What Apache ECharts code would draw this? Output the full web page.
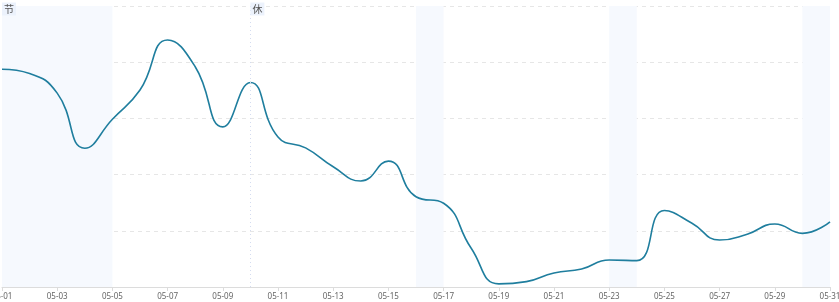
<!DOCTYPE html>
<html>
<head>
<meta charset="utf-8">
<script src="https://cdn.jsdelivr.net/npm/echarts@6/dist/echarts.min.js"></script>
<style>
  html, body { margin: 0; padding: 0; background: #fff; }
  #chart { width: 839px; height: 302px; }
</style>
</head>
<body>
<div id="chart"></div>
<script>
// days of May shown on the x axis
const days = [
  "05-01", "05-02", "05-03", "05-04", "05-05", "05-06", "05-07", "05-08",
  "05-09", "05-10", "05-11", "05-12", "05-13", "05-14", "05-15", "05-16",
  "05-17", "05-18", "05-19", "05-20", "05-21", "05-22", "05-23", "05-24",
  "05-25", "05-26", "05-27", "05-28", "05-29", "05-30", "05-31"
];
// series values (y axis has no labels, read on a 0-100 scale)
const values = [
  77.5, 76.0, 69.0, 49.4, 59.7, 70.1, 87.9, 78.4,
  57.0, 72.8, 53.4, 49.5, 42.8, 37.7, 44.8, 32.1,
  29.8, 13.8, 1.1, 1.9, 5.0, 6.4, 9.6, 9.4,
  27.2, 22.7, 16.7, 18.8, 22.4, 19.1, 23.2
];
// shaded day ranges
const shadedRanges = [
  ["05-01", "05-05"],
  ["05-16", "05-17"],
  ["05-23", "05-24"],
  ["05-30", "05-31"]
];
// tag labels at the top
const tags = [
  { day: "05-01", text: "节" },
  { day: "05-10", text: "休" }
];
const dividerDays = ["05-10"];

const chart = echarts.init(document.getElementById("chart"));

const option = {
  animation: false,
  grid: {
    left: 2, right: 9, top: 6, bottom: 15,
    containLabel: false,
    outerBoundsMode: "none"
  },
  xAxis: {
    type: "category",
    boundaryGap: false,
    data: days,
    axisLine: { lineStyle: { color: "#dcdcdc" } },
    axisTick: { interval: 1, length: 4, lineStyle: { color: "#dcdcdc" } },
    axisLabel: {
      interval: 1,
      fontSize: 8,
      color: "#666",
      margin: 6,
      fontFamily: "Noto Sans",
      showMinLabel: true,
      showMaxLabel: true
    },
    splitLine: { show: false }
  },
  yAxis: {
    type: "value",
    min: 0,
    max: 100,
    interval: 20,
    axisLabel: { show: false },
    axisLine: { show: false },
    axisTick: { show: false },
    splitLine: { lineStyle: { color: "#e6e6e6", type: [4, 4] } }
  },
  series: [
    {
      type: "line",
      data: values,
      smooth: true,
      symbol: "none",
      lineStyle: { color: "#1f7e9e", width: 1.6 },
      markArea: {
        silent: true,
        itemStyle: { color: "#f6f9fe" },
        data: shadedRanges.map(r => [{ xAxis: r[0] }, { xAxis: r[1] }])
      },
      markLine: {
        silent: true,
        symbol: "none",
        label: { show: false },
        lineStyle: { color: "#d4dcf0", type: [1, 3], width: 1 },
        data: dividerDays.map(d => ({ xAxis: d }))
      },
      markPoint: {
        silent: true,
        symbol: "rect",
        symbolSize: 0,
        data: tags.map(t => ({
          coord: [t.day, 100],
          value: t.text,
          label: {
            show: true,
            formatter: t.text,
            position: "right",
            distance: 0,
            offset: [0, 3],
            fontSize: 10,
            color: "#555",
            backgroundColor: "#ecf2fc",
            padding: [2, 2, 1, 2],
            fontFamily: "Noto Sans CJK SC"
          }
        }))
      }
    }
  ]
};

chart.setOption(option);
</script>
</body>
</html>
